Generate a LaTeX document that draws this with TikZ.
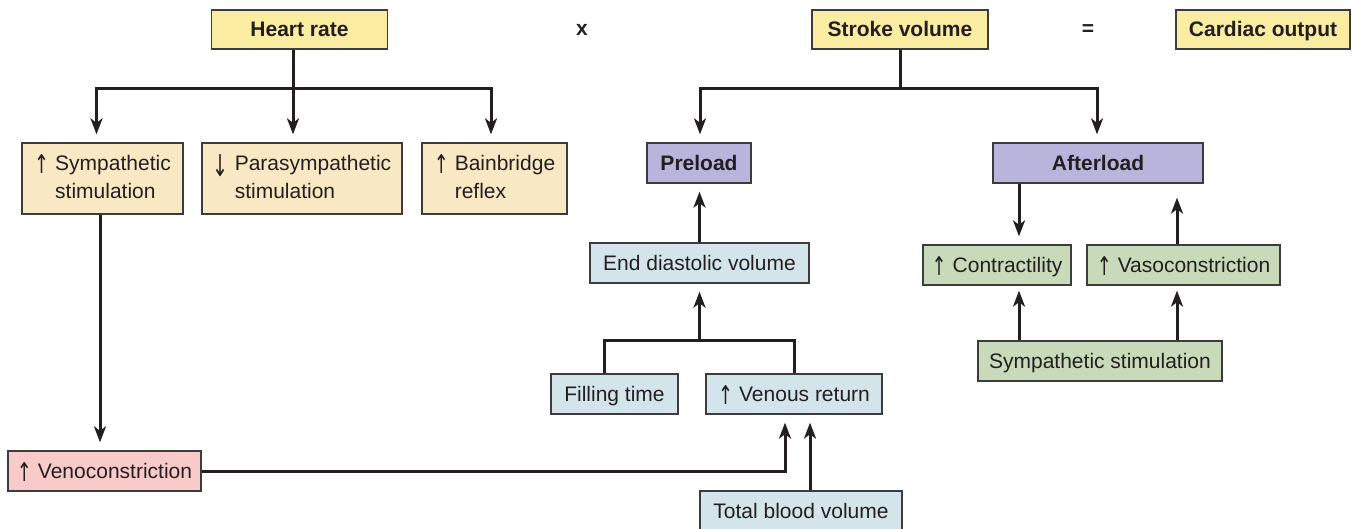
\documentclass[tikz,border=0pt]{standalone}
\usepackage{fontspec}
\setmainfont{Liberation Sans}
\newfontfamily\arrowfont{DejaVu Sans}
\usetikzlibrary{arrows.meta,calc}
\definecolor{txt}{RGB}{35,31,32}
\definecolor{boxline}{RGB}{60,60,60}
\definecolor{hrY}{RGB}{250,236,160}
\definecolor{beige}{RGB}{249,232,196}
\definecolor{purp}{RGB}{185,180,220}
\definecolor{lblue}{RGB}{211,229,235}
\definecolor{lgreen}{RGB}{200,218,186}
\definecolor{lpink}{RGB}{249,202,202}
\newcommand{\upa}{\raisebox{-3pt}{\resizebox{15pt}{19pt}{\raisebox{\depth}{\arrowfont ↑}}}\hspace{6pt}}
\newcommand{\dna}{\raisebox{-6pt}{\resizebox{16pt}{22pt}{\raisebox{\depth}{\arrowfont ↓}}}\hspace{6pt}}
\begin{document}
\begin{tikzpicture}[x=1pt,y=-1pt,
  box/.style={draw=boxline, line width=1.3pt, inner sep=0pt, text=txt,
    font=\fontsize{21}{28}\selectfont},
  one/.style={text height=19pt, text depth=4.3pt},
  bbox/.style={box, one, font=\fontsize{21}{28}\selectfont\bfseries},
  wire/.style={draw=txt, line width=3pt},
  conn/.style={wire, -{Stealth[length=16pt,width=12pt,inset=4.5pt]}, shorten >=8pt},
  sym/.style={text=txt, font=\fontsize{21}{28}\selectfont\bfseries}]
\useasboundingbox (0,0) rectangle (1352,528);
% top row
\node[bbox, fill=hrY, minimum width=176, minimum height=39] (hr) at (299.5,29.5) {Heart rate};
\node[sym] (times) at (582,30) {x};
\node[bbox, fill=hrY, minimum width=176, minimum height=39] (sv) at (900,29.5) {Stroke volume};
\node[sym] (eq) at (1088,30) {=};
\node[bbox, fill=hrY, minimum width=174, minimum height=39] (co) at (1263,29.5) {Cardiac output};
% heart rate factors
\node[box, fill=beige, minimum width=161, minimum height=71] (symp) at (102.5,178.5)
  {\upa\begin{tabular}[t]{@{}l@{}}Sympathetic\\stimulation\end{tabular}};
\node[box, fill=beige, minimum width=200, minimum height=71] (para) at (302,178.5)
  {\dna\begin{tabular}[t]{@{}l@{}}Parasympathetic\\stimulation\end{tabular}};
\node[box, fill=beige, minimum width=145, minimum height=71] (bain) at (494.5,178.5)
  {\upa\begin{tabular}[t]{@{}l@{}}Bainbridge\\reflex\end{tabular}};
\node[box, one, fill=lpink, minimum width=193, minimum height=40] (vc) at (104.5,471) {\upa Venoconstriction};
% preload side
\node[bbox, fill=purp, minimum width=104, minimum height=40] (pre) at (699,163) {Preload};
\node[box, one, fill=lblue, minimum width=219, minimum height=40] (edv) at (699.5,263) {End diastolic volume};
\node[box, one, fill=lblue, minimum width=127, minimum height=40] (fill) at (614.5,394) {Filling time};
\node[box, one, fill=lblue, minimum width=176, minimum height=40] (ven) at (794,394) {\upa Venous return};
\node[box, one, fill=lblue, minimum width=202, minimum height=40] (tbv) at (801,511) {Total blood volume};
% afterload side
\node[bbox, fill=purp, minimum width=210, minimum height=40] (aft) at (1098,163) {Afterload};
\node[box, one, fill=lgreen, minimum width=148, minimum height=40] (con) at (997,265) {\upa Contractility};
\node[box, one, fill=lgreen, minimum width=193, minimum height=40] (vaso) at (1183.5,265) {\upa Vasoconstriction};
\node[box, one, fill=lgreen, minimum width=244, minimum height=40] (ss) at (1100,361) {Sympathetic stimulation};
% heart rate connectors
\coordinate (hrj) at ($(hr.south)+(-6.5,39)$);
\coordinate (hrl) at ($(symp.north)+(-6,0)$);
\coordinate (hrr) at ($(bain.north)+(-3.5,0)$);
\draw[wire] (hrj |- hr.south) -- (hrj);
\draw[conn] (hrj) -| (hrl);
\draw[conn] (hrj) -- (hrj |- para.north);
\draw[conn] (hrj) -| (hrr);
% stroke volume connectors
\coordinate (svj) at ($(sv.south)+(0,39)$);
\coordinate (svl) at ($(pre.north)+(1,0)$);
\coordinate (svr) at ($(aft.north)+(-1,0)$);
\draw[wire] (sv.south) -- (svj);
\draw[conn] (svj) -| (svl);
\draw[conn] (svj) -| (svr);
% sympathetic -> venoconstriction
\coordinate (sv1) at ($(symp.south)+(-2.5,0)$);
\draw[conn] (sv1) -- (sv1 |- vc.north);
% preload chain
\draw[conn] (edv.north) -- (edv.north |- pre.south);
\coordinate (brL) at ($(fill.north)+(-10.5,-33)$);
\coordinate (brF) at ($(fill.north)+(-10.5,0)$);
\draw[wire] (brF) -- (brL) -| (ven.north);
\draw[conn] (brL -| edv.south) -- (edv.south);
\coordinate (vr1) at ($(ven.south)+(-9,0)$);
\coordinate (vr2) at ($(ven.south)+(16,0)$);
\draw[conn] (vc.east) -| (vr1);
\draw[conn] (vr2 |- tbv.north) -- (vr2);
% afterload chain
\coordinate (ac) at ($(aft.south)+(-79,0)$);
\coordinate (av) at ($(vaso.north)+(-6.5,0)$);
\draw[conn] (ac) -- (ac |- con.north);
\draw[conn, shorten >=14pt] (av) -- (av |- aft.south);
\draw[conn, shorten >=5pt] (ac |- ss.north) -- (ac |- con.south);
\draw[conn, shorten >=5pt] (av |- ss.north) -- (av |- vaso.south);
\end{tikzpicture}
\end{document}
